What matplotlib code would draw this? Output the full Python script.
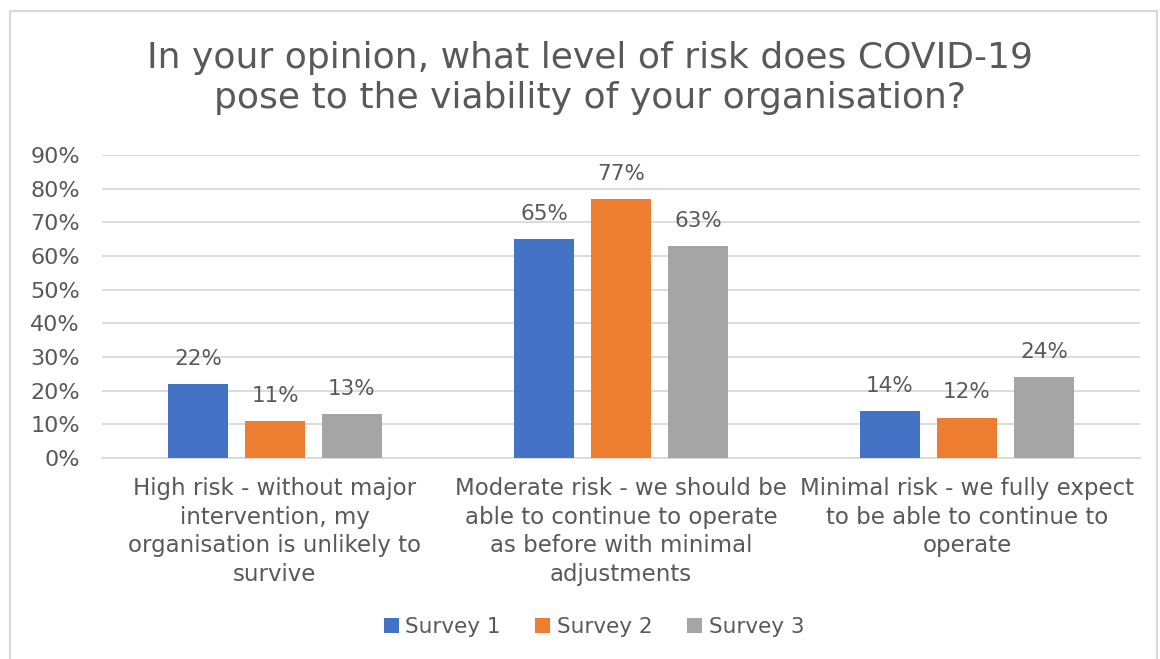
import numpy as np
import matplotlib.pyplot as plt
from matplotlib.patches import Rectangle

plt.rcParams['font.family'] = ['DejaVu Sans']

categories = ['High risk - without major\nintervention, my\norganisation is unlikely to\nsurvive',
              'Moderate risk - we should be\nable to continue to operate\nas before with minimal\nadjustments',
              'Minimal risk - we fully expect\nto be able to continue to\noperate']
series = ['Survey 1', 'Survey 2', 'Survey 3']
survey1 = [22, 65, 14]
survey2 = [11, 77, 12]
survey3 = [13, 63, 24]
colors = ['#4472C4', '#ED7D31', '#A5A5A5']
yticks = [0, 10, 20, 30, 40, 50, 60, 70, 80, 90]

text_col = '#595959'

fig = plt.figure(figsize=(11.6, 6.59), dpi=100)
fig.patches.append(Rectangle((10/1160, -0.01), 1147/1160, 1 - 11/659 + 0.01,
                             transform=fig.transFigure, fill=False,
                             edgecolor='#D9D9D9', linewidth=1.5))

ax = fig.add_axes([102/1160, 1 - 458/659, 1038/1160, 303/659])

x = np.arange(len(categories))
w = 0.173
offs = [-0.2225, 0, 0.2225]
for vals, off, c, name in zip([survey1, survey2, survey3], offs, colors, series):
    bars = ax.bar(x + off, vals, w, color=c, label=name, zorder=3)
    for b, v in zip(bars, vals):
        ax.text(b.get_x() + b.get_width() / 2, v + 4.5, f'{v}%', ha='center', va='bottom',
                fontsize=15.5, color=text_col)

ax.set_xlim(-0.5, 2.5)
ax.set_ylim(0, 90)
ax.set_yticks(yticks)
ax.set_yticklabels([f'{t}%' for t in yticks], fontsize=16, color=text_col)
ax.set_xticks(x)
ax.set_xticklabels(categories, fontsize=16.5, color=text_col, linespacing=1.3)
ax.tick_params(length=0, pad=16)
ax.tick_params(axis='x', pad=14)
ax.grid(axis='y', color='#D9D9D9', linewidth=1.3, zorder=0)
for s in ['top', 'right', 'left']:
    ax.spines[s].set_visible(False)
ax.spines['bottom'].set_color('#D9D9D9')
ax.spines['bottom'].set_linewidth(1.3)

fig.text(590/1160, 1 - 78/659, 'In your opinion, what level of risk does COVID-19\npose to the viability of your organisation?',
         ha='center', va='center', fontsize=26, color=text_col, linespacing=1.25)

fig.legend(loc='center', bbox_to_anchor=(594/1160, 1 - 627/659), ncol=3, frameon=False,
           fontsize=15.5, labelcolor=text_col, handlelength=0.7, handleheight=0.7,
           handletextpad=0.3, columnspacing=1.6)

fig.savefig('out.png', dpi=100)
